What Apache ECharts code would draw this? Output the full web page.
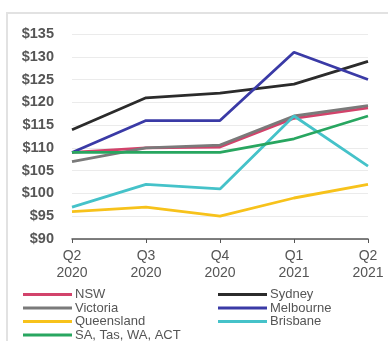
<!DOCTYPE html>
<html>
<head>
<meta charset="utf-8">
<script src="https://cdn.jsdelivr.net/npm/echarts@6/dist/echarts.min.js"></script>
<style>
  html, body { margin: 0; padding: 0; background: #fff; }
  #chart { width: 388px; height: 341px; }
</style>
</head>
<body>
<div id="chart"></div>
<script>
// Quarterly values by region
const quarters = ['Q2\n2020', 'Q3\n2020', 'Q4\n2020', 'Q1\n2021', 'Q2\n2021'];
const nsw = [109, 110, 110.2, 116.5, 118.8];
const sydney = [114, 121, 122, 124, 129];
const victoria = [107, 110, 110.6, 117, 119.3];
const melbourne = [109, 116, 116, 131, 125];
const queensland = [96, 97, 95, 99, 102];
const brisbane = [97, 102, 101, 117, 106];
const saTasWaAct = [109, 109, 109, 112, 117];
const yTicks = [90, 95, 100, 105, 110, 115, 120, 125, 130, 135];

const seriesDefs = [
  { name: 'NSW', data: nsw, color: '#d2436b' },
  { name: 'Sydney', data: sydney, color: '#2b2b2b' },
  { name: 'Victoria', data: victoria, color: '#7a7a7a' },
  { name: 'Melbourne', data: melbourne, color: '#3a3aa6' },
  { name: 'Queensland', data: queensland, color: '#f7c21b' },
  { name: 'Brisbane', data: brisbane, color: '#45c2c9' },
  { name: 'SA, Tas, WA, ACT', data: saTasWaAct, color: '#28a660' }
];

const chart = echarts.init(document.getElementById('chart'), null, { renderer: 'canvas' });

const legendText = {
  fontSize: 13, color: '#555', fontFamily: 'Liberation Sans',
  lineHeight: 13, padding: [0, 0, 0, -2]
};
const legendCommon = {
  orient: 'vertical',
  icon: 'rect',
  itemWidth: 49,
  itemHeight: 3,
  itemGap: 0.5,
  height: 80,
  textStyle: legendText,
  selectedMode: false
};

chart.setOption({
  animation: false,
  backgroundColor: '#fff',
  graphic: [{
    type: 'polyline',
    shape: { points: [[7, 341], [7, 13], [388, 13]] },
    style: { stroke: '#e2e2e2', lineWidth: 2, fill: null },
    silent: true
  }],
  grid: { left: 72, right: 20, top: 34, bottom: 102 },
  xAxis: {
    type: 'category',
    data: quarters,
    boundaryGap: false,
    axisLine: { lineStyle: { color: '#555', width: 1.5 } },
    axisTick: { show: true, alignWithLabel: true, length: 4, lineStyle: { color: '#555' } },
    axisLabel: {
      fontSize: 14, color: '#555', fontFamily: 'Liberation Sans',
      lineHeight: 17, margin: 9
    }
  },
  yAxis: {
    type: 'value',
    min: yTicks[0],
    max: yTicks[yTicks.length - 1],
    interval: 5,
    axisLine: { show: false },
    axisTick: { show: false },
    axisLabel: {
      fontSize: 14.5, fontWeight: 'bold', color: '#555', fontFamily: 'Liberation Sans', margin: 18,
      formatter: v => '$' + v
    },
    splitLine: { lineStyle: { color: '#ebebeb', width: 1 } }
  },
  legend: [
    Object.assign({}, legendCommon, {
      left: 18, top: 283,
      data: ['NSW', 'Victoria', 'Queensland', 'SA, Tas, WA, ACT']
    }),
    Object.assign({}, legendCommon, {
      left: 213, top: 283,
      data: ['Sydney', 'Melbourne', 'Brisbane']
    })
  ],
  series: seriesDefs.map(s => ({
    name: s.name,
    type: 'line',
    data: s.data,
    symbol: 'none',
    lineStyle: { color: s.color, width: 2.8 },
    itemStyle: { color: s.color }
  }))
});
</script>
</body>
</html>
